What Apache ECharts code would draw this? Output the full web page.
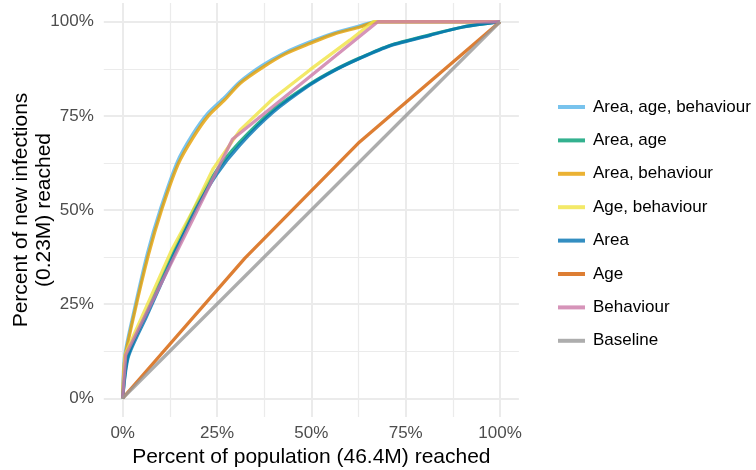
<!DOCTYPE html>
<html><head><meta charset="utf-8">
<script src="https://cdn.jsdelivr.net/npm/echarts@6/dist/echarts.min.js"></script>
<style>html,body{margin:0;padding:0;background:#fff}#c{width:756px;height:470px}</style>
</head><body><div id="c"></div>
<script>
// ---- data ----
const seriesNames = ['Area, age, behaviour','Area, age','Area, behaviour','Age, behaviour','Area','Age','Behaviour','Baseline'];
const majorTicks = [0,25,50,75,100];
const minorTicks = [12.5,37.5,62.5,87.5];

const areaAgeBehaviourX = [0, 0.5, 2.8, 6.6, 10.1, 14.5, 18.5, 22.5, 27.0, 31.0, 37.0, 43.0, 49.5, 56.0, 62.8, 67.3, 100];
const areaAgeBehaviourY = [0, 11.0, 22.2, 38.6, 50.5, 62.8, 70.0, 75.6, 79.9, 84.0, 88.4, 91.8, 94.6, 97.0, 98.9, 100, 100];

const areaAgeX = [0, 1.4, 6.1, 14.0, 19.1, 24.7, 31.0, 39.8, 49.6, 56.0, 62.9, 70.8, 81.4, 90.2, 100];
const areaAgeY = [0, 11.3, 22.2, 39.8, 50.6, 60.2, 68.0, 76.5, 83.4, 87.1, 90.4, 93.7, 96.5, 98.6, 100];

const areaBehaviourX = [0, 0.6, 2.9, 6.8, 10.3, 14.7, 18.7, 22.7, 27.1, 31.1, 37.3, 43.0, 49.6, 56.0, 62.9, 67.5, 100];
const areaBehaviourY = [0, 10.5, 21.7, 38.0, 50.0, 62.2, 69.3, 75.0, 79.3, 83.6, 88.0, 91.4, 94.2, 96.7, 98.6, 100, 100];

const ageBehaviourX = [0, 0.6, 13.0, 18.7, 24.0, 31.1, 39.9, 49.6, 60.2, 66.4, 100];
const ageBehaviourY = [0, 11.5, 39.4, 50.0, 61.0, 71.2, 79.6, 87.2, 95.1, 100, 100];

const areaX = [0, 1.5, 6.3, 14.2, 19.3, 24.9, 31.1, 39.9, 49.6, 56.0, 62.9, 70.8, 81.4, 90.2, 100];
const areaY = [0, 11.0, 21.7, 39.4, 50.0, 59.5, 67.3, 76.0, 83.2, 87.0, 90.3, 93.6, 96.4, 98.6, 100];

const ageX = [0, 32.4, 62.4, 100];
const ageY = [0, 37.2, 67.7, 100];

const behaviourX = [0, 0.8, 29.1, 67.6, 100];
const behaviourY = [0, 11.5, 68.8, 100, 100];

const baselineX = [0, 100];
const baselineY = [0, 100];

const seriesX = [areaAgeBehaviourX, areaAgeX, areaBehaviourX, ageBehaviourX, areaX, ageX, behaviourX, baselineX];
const seriesY = [areaAgeBehaviourY, areaAgeY, areaBehaviourY, ageBehaviourY, areaY, ageY, behaviourY, baselineY];
const smoothFlags = [true, true, true, false, true, false, false, false];
const colors = ['rgba(86,180,233,0.8)','rgba(0,158,115,0.8)','rgba(230,159,0,0.8)','rgba(240,228,66,0.8)',
                'rgba(0,114,178,0.8)','rgba(213,94,0,0.8)','rgba(204,121,167,0.8)','rgba(153,153,153,0.8)'];

const FONT = 'Liberation Sans';
const gridColor = '#ebebeb';

const series = seriesNames.map((name, i) => ({
  name: name,
  type: 'line',
  xAxisIndex: 0, yAxisIndex: 0,
  data: seriesX[i].map((x, j) => [x, seriesY[i][j]]),
  showSymbol: false, symbol: 'none',
  smooth: smoothFlags[i] ? 0.25 : false,
  lineStyle: { width: 3.3, color: colors[i] },
  itemStyle: { color: colors[i] },
  emphasis: { disabled: true }
}));

const chart = echarts.init(document.getElementById('c'), null, { renderer: 'canvas' });
chart.setOption({
  animation: false,
  backgroundColor: '#fff',
  grid: { left: 103.8, right: 237.1, top: 2.9, bottom: 52.9, containLabel: false, outerBoundsMode: 'none' },
  xAxis: [{
    type: 'value', min: -5, max: 105,
    name: 'Percent of population (46.4M) reached',
    nameLocation: 'middle', nameGap: 30, nameMoveOverlap: false,
    nameTextStyle: { fontFamily: FONT, fontSize: 21, color: '#000', verticalAlign: 'top' },
    axisLine: { show: false },
    axisTick: { show: false, customValues: majorTicks },
    axisLabel: { customValues: majorTicks, formatter: '{value}%', fontFamily: FONT, fontSize: 17, color: '#4d4d4d', margin: 8 },
    splitLine: { show: true, lineStyle: { color: gridColor, width: 2 } }
  }, {
    type: 'value', min: -5, max: 105, position: 'bottom',
    axisLine: { show: false },
    axisTick: { show: false, customValues: minorTicks },
    axisLabel: { show: false, customValues: minorTicks },
    splitLine: { show: true, lineStyle: { color: gridColor, width: 1.2 } }
  }],
  yAxis: [{
    type: 'value', min: -5, max: 105,
    name: 'Percent of new infections\n(0.23M) reached',
    nameLocation: 'middle', nameGap: 48, nameRotate: 90, nameMoveOverlap: false,
    nameTextStyle: { fontFamily: FONT, fontSize: 21, color: '#000', lineHeight: 23 },
    axisLine: { show: false },
    axisTick: { show: false, customValues: majorTicks },
    axisLabel: { customValues: majorTicks, formatter: '{value}%', fontFamily: FONT, fontSize: 17, color: '#4d4d4d', margin: 10 },
    splitLine: { show: true, lineStyle: { color: gridColor, width: 2 } }
  }, {
    type: 'value', min: -5, max: 105, position: 'left',
    axisLine: { show: false },
    axisTick: { show: false, customValues: minorTicks },
    axisLabel: { show: false, customValues: minorTicks },
    splitLine: { show: true, lineStyle: { color: gridColor, width: 1.2 } }
  }],
  legend: {
    orient: 'vertical', left: 553, top: 92,
    data: seriesNames,
    icon: 'rect', itemWidth: 27, itemHeight: 4, itemGap: 13.4,
    selectedMode: false,
    textStyle: { fontFamily: FONT, fontSize: 17, color: '#000', lineHeight: 20, padding: [0, 0, 0, 3] }
  },
  series: series
});
</script>
</body></html>
